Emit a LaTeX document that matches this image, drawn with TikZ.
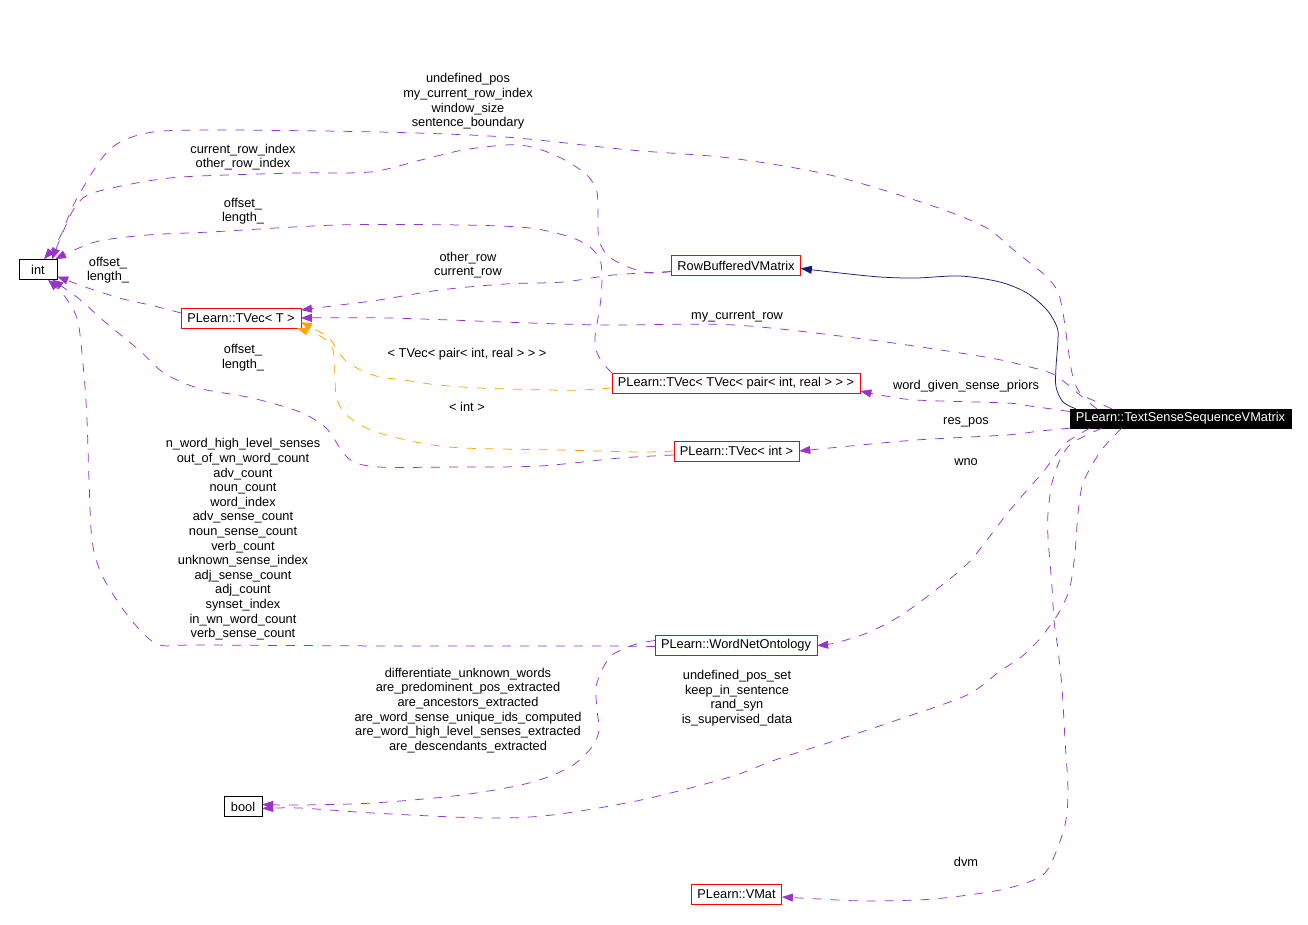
\documentclass[tikz,border=0pt]{standalone}
\usepackage{fontspec}
\setmainfont{Liberation Sans}
\usetikzlibrary{arrows.meta}

\definecolor{usecol}{HTML}{9A32CD}
\definecolor{tmplcol}{HTML}{FFA500}
\definecolor{inhcol}{HTML}{191970}

\tikzset{
  cls/.style={draw=red, inner xsep=6pt, inner ysep=0pt, minimum height=20pt},
  basic/.style={draw=black, inner xsep=6pt, inner ysep=0pt, minimum width=38pt, minimum height=20pt},
  focus/.style={draw=black, fill=black, text=white, inner xsep=6pt, inner ysep=0pt, minimum height=19pt},
  lbl/.style={align=center, inner sep=0pt},
  usage/.style={draw=usecol, line width=0.75pt, dash pattern=on 9pt off 9pt,
    -{Triangle[length=11pt,width=8pt,fill=usecol]}},
  tmpl/.style={draw=tmplcol, line width=0.75pt, dash pattern=on 9pt off 9pt,
    -{Triangle[length=11pt,width=8pt,fill=tmplcol]}},
  inherit/.style={draw=inhcol, line width=0.75pt,
    -{Triangle[length=11pt,width=8pt,fill=inhcol]}},
}

\begin{document}
\begin{tikzpicture}[x=1pt, y=-1pt, font=\fontsize{12.8}{14.6}\selectfont]
\useasboundingbox (0,0) rectangle (1308,924);

% classes
\node[basic] (int) at (38,269.5) {int};
\node[basic] (bool) at (243,806.5) {bool};
\node[cls] (tvecT) at (241,318) {PLearn::TVec< T >};
\node[cls] (rbv) at (736,265.5) {RowBufferedVMatrix};
\node[cls] (tvecvec) at (736,383) {PLearn::TVec< TVec< pair< int, real > > >};
\node[cls] (tvecint) at (736.5,451) {PLearn::TVec< int >};
\node[cls] (wnet) at (736,645.5) {PLearn::WordNetOntology};
\node[cls] (vmat) at (736.5,894) {PLearn::VMat};
\node[focus] (tssv) at (1180.5,418.5) {PLearn::TextSenseSequenceVMatrix};

% edge labels
\node[lbl] (lundef) at (468,101.5) {undefined\_pos\\my\_current\_row\_index\\window\_size\\sentence\_boundary};
\node[lbl] (lrowidx) at (243,157) {current\_row\_index\\other\_row\_index};
\node[lbl] (loffa) at (243,211) {offset\_\\length\_};
\node[lbl] (loffb) at (108,270) {offset\_\\length\_};
\node[lbl] (lrows) at (468,265) {other\_row\\current\_row};
\node[lbl] (lcur) at (737,317) {my\_current\_row};
\node[lbl] (lpair) at (467,354) {< TVec< pair< int, real > > >};
\node[lbl] (loffc) at (243,357.5) {offset\_\\length\_};
\node[lbl] (lprior) at (966,386) {word\_given\_sense\_priors};
\node[lbl] (lint) at (467,407) {< int >};
\node[lbl] (lres) at (966,422) {res\_pos};
\node[lbl] (lwno) at (966,462) {wno};
\node[lbl] (lwn) at (243,539.5) {n\_word\_high\_level\_senses\\out\_of\_wn\_word\_count\\adv\_count\\noun\_count\\word\_index\\adv\_sense\_count\\noun\_sense\_count\\verb\_count\\unknown\_sense\_index\\adj\_sense\_count\\adj\_count\\synset\_index\\in\_wn\_word\_count\\verb\_sense\_count};
\node[lbl] (lflags) at (468,710.5) {differentiate\_unknown\_words\\are\_predominent\_pos\_extracted\\are\_ancestors\_extracted\\are\_word\_sense\_unique\_ids\_computed\\are\_word\_high\_level\_senses\_extracted\\are\_descendants\_extracted};
\node[lbl] (lopts) at (737,698) {undefined\_pos\_set\\keep\_in\_sentence\\rand\_syn\\is\_supervised\_data};
\node[lbl] (ldvm) at (966,862) {dvm};

% inheritance
\draw[inherit] plot[smooth] coordinates {([xshift=6pt]tssv.north west) (1063,402) (1056,387) (1056,367) (1058,340) (1057,327) (1047,310) (1027,293) (1000,282) (960,276) (916,278) (880,277) (840,273) ([yshift=-3pt]rbv.east)};

% members of TextSenseSequenceVMatrix
\draw[usage] plot[smooth] coordinates {([xshift=42pt]tssv.north west) (1097,402) (1080,393) (1072,373) (1067,340) (1063,313) (1058,292) (1047,277) (1030,263) (1010,247) (985,227) (930,205) (830,175) (730,158) (630,150) (505,137) (379,132) (210,130) (147,133) (109,150) (76,200) (60,237) ([xshift=6pt]int.north)};
\draw[usage] plot[smooth] coordinates {([xshift=27pt]tssv.north west) (1080,395) (1067,384) (1053,374) (1030,367) (985,357) (871,340) (735,325) (609,325) (530,323) (390,318) (tvecT.east)};
\draw[usage] plot[smooth] coordinates {([yshift=7pt]tssv.west) (1030,406) (1006,403) (916,400) (880,395) ([yshift=-8pt]tvecvec.east)};
\draw[usage] plot[smooth] coordinates {(tssv.south west) (1040,431) (1006,435) (916,440) (840,447) (tvecint.east)};
\draw[usage] plot[smooth] coordinates {([xshift=20pt]tssv.south west) (1067,442) (1055,456) (1043,472) (1010,510) (970,561) (933,592) (900,616) (867,633) (835,643) (wnet.east)};
\draw[usage] plot[smooth] coordinates {([xshift=32pt]tssv.south west) (1072,443) (1060,460) (1052,483) (1048,513) (1048,537) (1052,587) (1054,620) (1058,650) (1062,688) (1065,740) (1068,791) (1065,825) (1053,859) (1040,877) (1000,890) (933,899) (867,901) (820,899) ([yshift=-3pt]vmat.east)};
\draw[usage] plot[smooth] coordinates {([xshift=52pt]tssv.south west) (1110,440) (1098,455) (1083,483) (1078,513) (1075,553) (1070,587) (1062,607) (1052,623) (1037,642) (1020,658) (1000,671) (967,695) (900,719) (840,739) (775,760) (730,777) (641,800) (552,815) (485,818) (373,813) (300,808) ([yshift=-2pt]bool.east)};

% members of RowBufferedVMatrix
\draw[usage] plot[smooth] coordinates {([yshift=-6pt]rbv.west) (613,275) (563,282) (505,284) (440,290) (379,300) (340,305) ([yshift=8pt]tvecT.east)};
\draw[usage] plot[smooth] coordinates {([yshift=-6pt]rbv.west) (650,273) (628,267) (608,256) (599,240) (598,220) (597,192) (588,176) (570,163) (550,153) (527,146) (505,145) (463,150) (421,160) (370,172) (295,173) (181,177) (126,185) (88,195) (72,212) ([xshift=14pt]int.north)};

% members of the TVec instances
\draw[usage] plot[smooth] coordinates {(tvecvec.north west) (602,362) (596,350) (595,337) (598,318) (601,298) (602,275) (600,260) (590,247) (570,237) (530,228) (463,225) (337,225) (210,232) (147,235) (95,242) ([xshift=17pt]int.north)};
\draw[usage] plot[smooth] coordinates {([yshift=5pt]tvecT.west) (150,305) (123,299) (88,288) ([yshift=-7pt]int.east)};
\draw[usage] plot[smooth] coordinates {([yshift=-4pt]tvecint.west) (620,458) (540,466) (463,467) (379,467) (352,461) (340,448) (326,428) (300,412) (252,398) (198,388) (164,373) (139,350) (105,322) (78,298) ([xshift=14pt]int.south)};

% members of WordNetOntology
\draw[usage] plot[smooth] coordinates {([yshift=-1pt]wnet.west) (600,646) (400,646) (200,645) (160,645) (140,630) (120,605) (101,573) (92,540) (89,480) (87,420) (84,375) (78,322) (66,298) ([xshift=10pt]int.south)};
\draw[usage] plot[smooth] coordinates {([yshift=5pt]wnet.west) (640,643) (628,647) (612,655) (603,668) (596,687) (597,710) (599,730) (592,747) (570,767) (529,783) (462,795) (373,803) (300,805) ([yshift=2pt]bool.east)};

% template instances
\draw[tmpl] plot[smooth] coordinates {([yshift=-5pt]tvecvec.west) (580,390) (547,390) (480,388) (438,385) (404,380) (380,377) (363,371) (347,362) (337,350) (328,337) ([yshift=-4pt]tvecT.east)};
\draw[tmpl] plot[smooth] coordinates {(tvecint.west) (640,452) (560,450) (463,448) (421,443) (379,433) (357,423) (342,410) (336,395) (335,377) (333,350) (322,337) ([xshift=-4pt]tvecT.south east)};
\end{tikzpicture}
\end{document}
